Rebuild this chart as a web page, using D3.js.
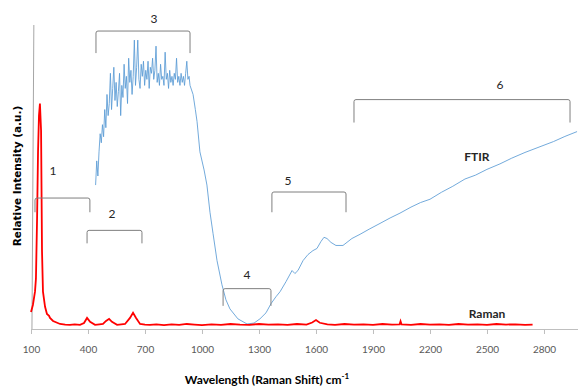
<!DOCTYPE html>
<html>
<head>
<meta charset="utf-8">
<script src="https://cdn.jsdelivr.net/npm/d3@7"></script>
<style>
  body { margin: 0; background: #fff; }
  svg { display: block; }
</style>
</head>
<body>
<div id="chart"></div>
<script>
// x ticks (cm-1)
const xTicks = [100, 400, 700, 1000, 1300, 1600, 1900, 2200, 2500, 2800];

// FTIR spectrum: wavenumber / relative intensity
const ftirX = [440, 446, 452, 458, 464, 470, 476, 482, 488, 494,
  500, 506, 512, 518, 524, 530, 536, 542, 548, 554,
  560, 566, 572, 578, 584, 590, 596, 602, 608, 614,
  620, 626, 632, 638, 644, 650, 656, 662, 668, 674,
  680, 686, 692, 698, 704, 710, 716, 722, 728, 734,
  740, 746, 752, 758, 764, 770, 776, 782, 788, 794,
  800, 806, 812, 818, 824, 830, 836, 842, 848, 854,
  860, 866, 872, 878, 884, 890, 896, 902, 908, 914,
  920, 926, 932, 937,
  953, 965, 974, 989, 1011, 1026, 1042, 1058, 1079, 1105, 1126, 1147, 1189, 1237, 1274, 1305, 1337, 1363,
  1389, 1411, 1442, 1474, 1489, 1505, 1532, 1558, 1584, 1605, 1626, 1642, 1658, 1679, 1705, 1742,
  1789, 1832, 1880, 1937, 1990, 2042, 2100, 2150, 2200, 2260, 2320, 2384, 2440, 2500, 2568, 2630,
  2700, 2779, 2850, 2910, 2974];
const ftirY = [47, 55, 50, 58, 64, 61, 67, 63, 72, 66,
  77, 70, 74, 84, 72, 79, 86, 75, 81, 73,
  78, 84, 70, 80, 76, 87, 79, 83, 74, 89,
  81, 85, 77, 83, 95, 80, 86, 95, 82, 79,
  87, 83, 88, 80, 85, 82, 88, 79, 86, 84,
  89, 82, 85, 93, 81, 84, 80, 87, 82, 83,
  80, 91, 82, 84, 79, 85, 81, 83, 80, 84,
  82, 89, 81, 83, 80, 84, 81, 83, 80, 84,
  88, 82, 83, 80,
  77, 72, 68, 58, 52, 47, 38, 31, 22, 14, 9, 6, 2.7, 1, 1.3, 2.7, 4.7, 7.7,
  10, 11.7, 15, 18.7, 17.7, 18.7, 22, 24, 25.3, 26, 28.3, 29.7, 29.3, 28, 27, 27,
  29.3, 30.7, 32.4, 34.3, 36.1, 37.7, 39.7, 41.2, 42.3, 44.6, 46.6, 49, 50.3, 52.2, 54, 55.9,
  57.8, 59.7, 61.4, 63.1, 64.7];

// Raman spectrum: shift / relative intensity
const ramanX = [100, 110, 121, 126, 132, 137, 142, 147, 153, 158, 163, 174, 184, 195, 200, 216, 253, 280, 305, 330,
  358, 379, 395, 411, 437, 460, 479, 495, 511, 526, 553, 575, 595, 621, 637, 653, 674, 700, 726, 760,
  800, 840, 880, 920, 960, 1000, 1050, 1100, 1150, 1200, 1250, 1300, 1350, 1400, 1450, 1500, 1550, 1580, 1600, 1620,
  1660, 1700, 1750, 1800, 1850, 1900, 1950, 2000, 2040, 2045, 2050, 2100, 2150, 2200, 2250, 2300, 2350, 2400, 2450, 2500,
  2550, 2600, 2650, 2700, 2740];
const ramanY = [5, 7.3, 11.7, 16, 36, 58, 70, 74, 65, 25, 11.7, 6.7, 4.3, 3.7, 3, 2, 1, 0.8, 0.7, 0.9,
  0.7, 1.3, 3, 1.7, 0.7, 0.9, 1, 2, 2.7, 1.7, 0.7, 0.9, 1, 3, 4.7, 3, 1, 0.8, 0.7, 0.9,
  0.6, 0.9, 0.7, 1, 0.8, 0.6, 0.9, 0.7, 1, 0.8, 0.7, 1, 0.8, 0.9, 0.7, 1, 0.8, 1.5, 2.3, 1.4,
  0.9, 0.7, 1, 0.8, 0.9, 0.7, 1, 0.8, 0.9, 1.9, 0.9, 0.7, 1, 0.8, 0.9, 0.7, 1, 0.8, 0.9, 0.7,
  1, 0.8, 0.9, 0.7, 0.8];

// bracket annotations
const bracketNames = ["1", "2", "3", "4", "5", "6"];
const bracketX0 = [121, 395, 442, 1111, 1368, 1800];
const bracketX1 = [410, 684, 937, 1363, 1758, 2937];
const bracketTop = [42.7, 32, 98, 12.7, 44.7, 75.3];
const bracketEnd = [38, 27.7, 90.7, 7, 38, 67.7];
const labelX = [216, 526, 747, 1237, 1453, 2568];
const labelY = [51.3, 37, 101.7, 17, 48, 79.7];

const width = 578, height = 389;
const margin = { top: 25, right: 0, bottom: 62, left: 31 };

const svg = d3.select("#chart").append("svg")
    .attr("width", width)
    .attr("height", height);

const x = d3.scaleLinear()
    .domain([100, 2979])
    .range([margin.left, width - margin.right]);

const y = d3.scaleLinear()
    .domain([0, 100])
    .range([height - margin.bottom, margin.top]);

// axes
const xAxis = g => g
    .attr("transform", `translate(0,${y(0) + 2})`)
    .call(d3.axisBottom(x).tickValues(xTicks).tickFormat(d3.format("d"))
        .tickSize(5).tickPadding(12).tickSizeOuter(0))
    .call(g => g.select(".domain").attr("stroke", "#bfbfbf"))
    .call(g => g.selectAll(".tick line").attr("stroke", "#bfbfbf"))
    .call(g => g.selectAll(".tick text")
        .attr("fill", "#595959")
        .style("font", "10px Lato, sans-serif"));

svg.append("g").call(xAxis);

svg.append("line")
    .attr("x1", x(115)).attr("x2", x(105))
    .attr("y1", y(100)).attr("y2", y(0) + 2)
    .attr("stroke", "#a6a6a6");

const line = d3.line()
    .x(d => x(d[0]))
    .y(d => y(d[1]));

// FTIR
svg.append("path")
    .datum(d3.zip(ftirX, ftirY))
    .attr("fill", "none")
    .attr("stroke", "#5b9bd5")
    .attr("stroke-opacity", 0.85)
    .attr("stroke-width", 1)
    .attr("d", line);

// Raman
svg.append("path")
    .datum(d3.zip(ramanX, ramanY))
    .attr("fill", "none")
    .attr("stroke", "#ff0000")
    .attr("stroke-width", 1.8)
    .attr("d", line);

// brackets
const brackets = bracketNames.map((n, i) => ({
    name: n, x0: bracketX0[i], x1: bracketX1[i], top: bracketTop[i], end: bracketEnd[i],
    lx: labelX[i], ly: labelY[i]
}));

svg.append("g")
    .selectAll("path")
    .data(brackets)
    .join("path")
    .attr("fill", "none")
    .attr("stroke", "#7f7f7f")
    .attr("stroke-width", 1)
    .attr("d", d => `M${x(d.x0)},${y(d.end)}L${x(d.x0)},${y(d.top) + 2}Q${x(d.x0)},${y(d.top)} ${x(d.x0) + 2},${y(d.top)}` +
        `L${x(d.x1) - 2},${y(d.top)}Q${x(d.x1)},${y(d.top)} ${x(d.x1)},${y(d.top) + 2}L${x(d.x1)},${y(d.end)}`);

svg.append("g")
    .selectAll("text")
    .data(brackets)
    .join("text")
    .attr("x", d => x(d.lx))
    .attr("y", d => y(d.ly))
    .attr("text-anchor", "middle")
    .attr("dominant-baseline", "middle")
    .attr("fill", "#262626")
    .style("font", "12px Lato, sans-serif")
    .text(d => d.name);

// series labels
svg.append("text")
    .attr("x", x(2447)).attr("y", y(56))
    .attr("text-anchor", "middle")
    .attr("dominant-baseline", "middle")
    .attr("fill", "#262626")
    .style("font", "bold 12px Lato, sans-serif")
    .text("FTIR");

svg.append("text")
    .attr("x", x(2500)).attr("y", y(4))
    .attr("text-anchor", "middle")
    .attr("dominant-baseline", "middle")
    .attr("fill", "#262626")
    .style("font", "bold 12px Lato, sans-serif")
    .text("Raman");

// axis titles
svg.append("text")
    .attr("transform", `translate(21,176) rotate(-90)`)
    .attr("text-anchor", "middle")
    .attr("fill", "#000")
    .style("font", "bold 10.5px 'DejaVu Sans', sans-serif")
    .text("Relative Intensity (a.u.)");

const xt = svg.append("text")
    .attr("x", 267).attr("y", 384)
    .attr("text-anchor", "middle")
    .attr("fill", "#000")
    .style("font", "bold 12px Lato, sans-serif");
xt.append("tspan").text("Wavelength (Raman Shift) cm");
xt.append("tspan").attr("dy", -5).style("font-size", "8px").text("-1");
</script>
</body>
</html>
